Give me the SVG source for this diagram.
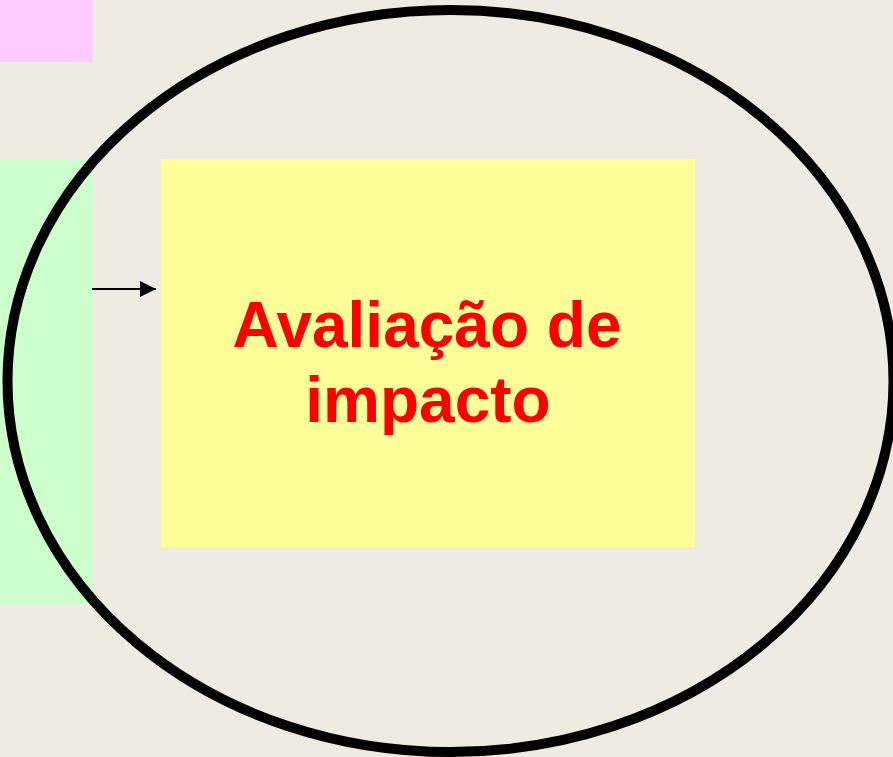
<svg xmlns="http://www.w3.org/2000/svg" width="893" height="757" viewBox="0 0 893 757">
<style>
.lbl{font-family:"Liberation Sans",Arial,sans-serif;font-weight:bold;font-size:64px;fill:#FF0000;text-anchor:middle}
</style>
<defs>
<marker id="ah" markerUnits="userSpaceOnUse" markerWidth="16" markerHeight="16" refX="16" refY="8" orient="auto">
<path d="M0,0 L16,8 L0,16 Z" fill="#000"/>
</marker>
</defs>
<rect width="893" height="757" fill="#EEEBE3"/>
<g id="pink"><rect x="0" y="0" width="93" height="62" fill="#FFCCFF"/></g>
<g id="green"><rect x="0" y="160" width="93" height="444" fill="#CCFFCC"/></g>
<g id="box"><rect x="161" y="159" width="534" height="388" fill="#FFFF99"/>
<text class="lbl" x="427" y="347">Avaliação de</text>
<text class="lbl" x="428" y="422">impacto</text></g>
<g id="ellipse"><ellipse cx="450.5" cy="381" rx="443" ry="371" fill="none" stroke="#000" stroke-width="10"/></g>
<g id="connectors"><line x1="92" y1="289" x2="156" y2="289" stroke="#000" stroke-width="2" marker-end="url(#ah)"/></g>
</svg>
